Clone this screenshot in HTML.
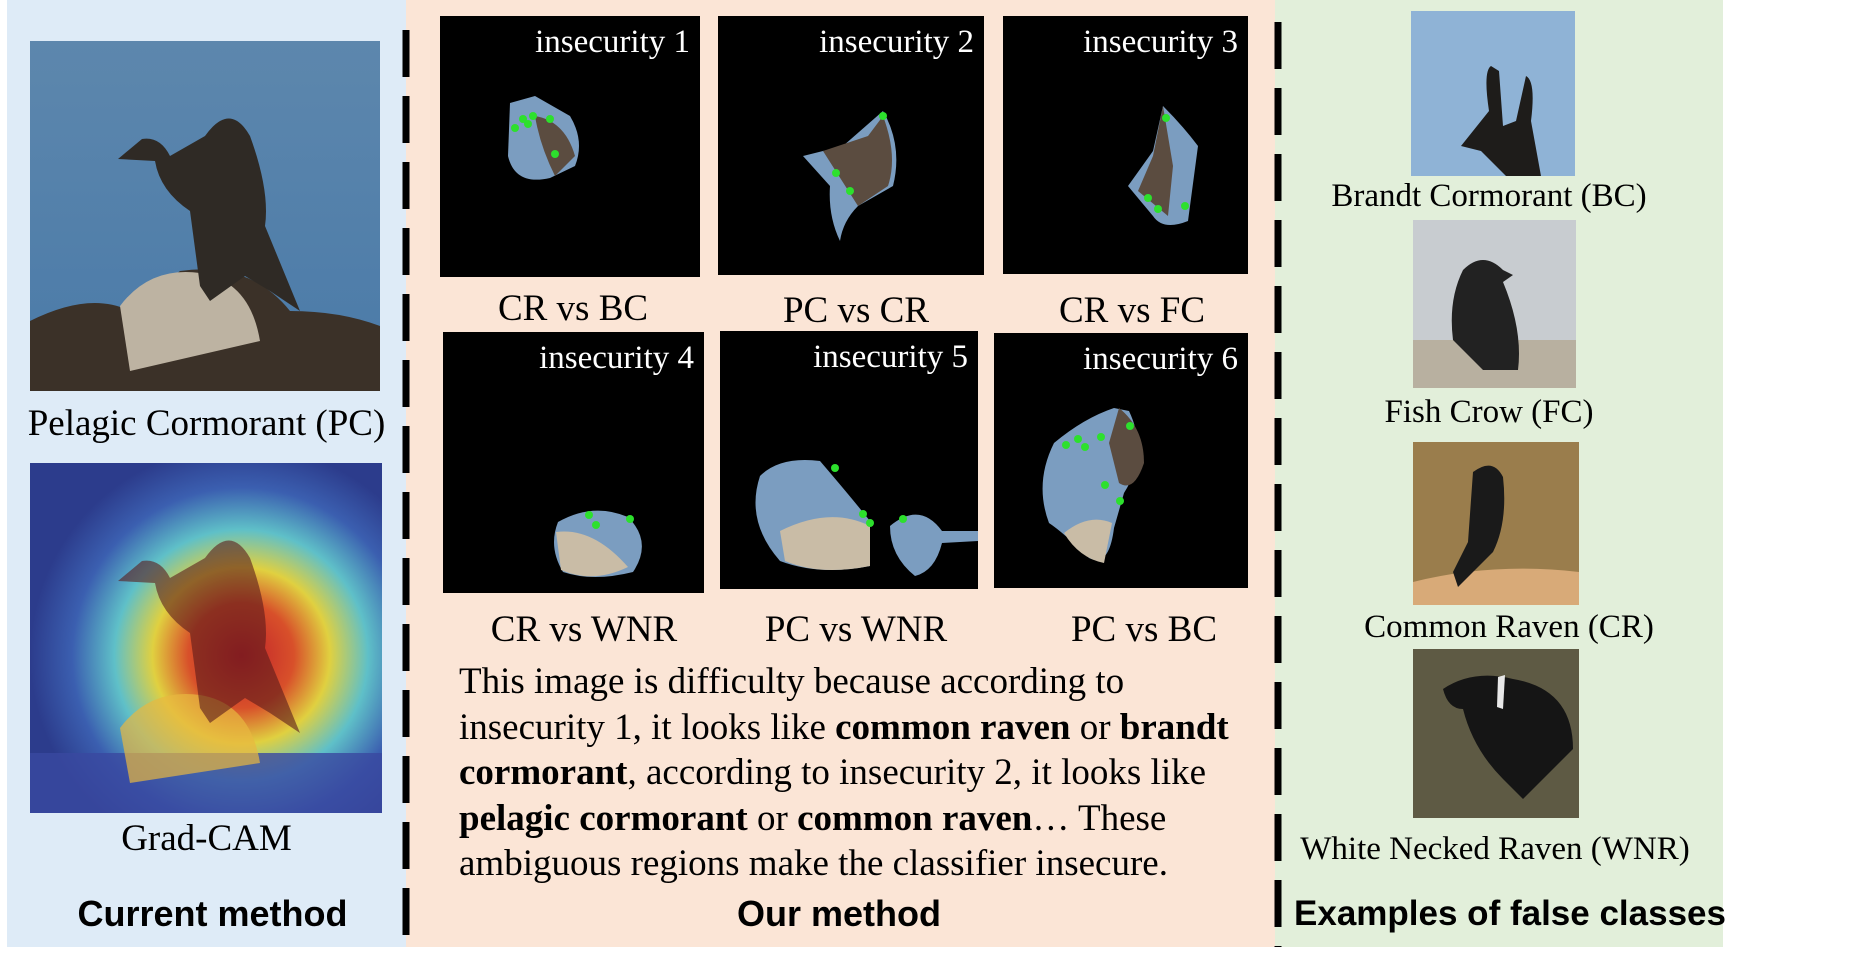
<!DOCTYPE html>
<html><head><meta charset="utf-8"><style>
body{margin:0;width:1866px;height:965px;background:#fff;position:relative;overflow:hidden;font-family:"Liberation Serif",serif}
div,svg{position:absolute}
.t{font-family:"Liberation Serif",serif;color:#000;text-align:center;white-space:nowrap}
.h{font-family:"Liberation Sans",sans-serif;font-weight:bold;text-align:center;white-space:nowrap;font-size:36px;letter-spacing:0}
.pan{background:#000;overflow:hidden}
.lab{position:absolute;right:10px;top:8px;color:#fff;font-size:33px;font-family:"Liberation Serif",serif}
.cap{font-size:37px}
.rc{font-size:33px}
.para{font-size:37px;line-height:45.5px;left:459px;top:659px;white-space:nowrap}
</style></head><body>
<div style="left:7px;top:0;width:399px;height:947px;background:#deebf7"></div>
<div style="left:406px;top:0;width:869px;height:947px;background:#fbe5d6"></div>
<div style="left:1275px;top:0;width:448px;height:947px;background:#e2efda"></div>

<svg style="left:402px;top:0" width="8" height="947"><line x1="4" y1="30" x2="4" y2="947" stroke="#000" stroke-width="7" stroke-dasharray="47 19"/></svg>
<svg style="left:1274px;top:0" width="8" height="947"><line x1="4" y1="22" x2="4" y2="947" stroke="#000" stroke-width="7" stroke-dasharray="47 19"/></svg>

<svg style="left:30px;top:41px" width="350" height="350" viewBox="0 0 350 350">
<defs><linearGradient id="sky" x1="0" y1="0" x2="0" y2="1"><stop offset="0" stop-color="#5d87ad"/><stop offset="1" stop-color="#4a7aa8"/></linearGradient></defs>
<rect width="350" height="350" fill="url(#sky)"/>
<path d="M0 280 Q60 250 100 270 L150 230 Q220 220 260 270 Q310 270 350 285 L350 350 L0 350Z" fill="#3b3128"/>
<path d="M90 265 Q120 225 170 232 Q220 240 230 300 L100 330Z" fill="#bdb3a2"/>
<path d="M88 118 L112 98 Q130 95 140 115 L175 95 Q200 60 220 95 Q240 150 235 185 L270 270 L240 250 L215 235 L180 260 L170 245 L160 170 Q130 150 125 120 Z" fill="#2f2a25"/>
</svg>
<div class="t cap" style="left:7px;width:399px;top:402px">Pelagic Cormorant (PC)</div>

<svg style="left:30px;top:463px" width="352" height="350" viewBox="0 0 352 350">
<defs><radialGradient id="cam" cx="0.6" cy="0.55" r="0.6"><stop offset="0" stop-color="#c0202a"/><stop offset="0.25" stop-color="#d8502a"/><stop offset="0.42" stop-color="#e0d040"/><stop offset="0.6" stop-color="#5fc0c8"/><stop offset="0.8" stop-color="#3b5fb0"/><stop offset="1" stop-color="#2c3c8c"/></radialGradient></defs>
<rect width="352" height="350" fill="url(#cam)"/>
<rect y="290" width="352" height="60" fill="#3a48a0" opacity="0.8"/>
<path d="M90 265 Q120 225 170 232 Q220 240 230 300 L100 320Z" fill="#e8b840" opacity="0.7"/>
<path d="M88 118 L112 98 Q130 95 140 115 L175 95 Q200 60 220 95 Q240 150 235 185 L270 270 L240 250 L215 235 L180 260 L170 245 L160 170 Q130 150 125 120 Z" fill="#5a1a1a" opacity="0.6"/>
</svg>
<div class="t cap" style="left:7px;width:399px;top:817px">Grad-CAM</div>
<div class="h" style="left:13px;width:399px;top:893px">Current method</div>

<div class="pan" style="left:440px;top:16px;width:260px;height:261px"><span class="lab">insecurity 1</span>
<svg style="left:0;top:0" width="260" height="261"><path d="M70 87 L95 80 L130 100 Q145 125 135 150 L110 162 Q75 170 68 140Z" fill="#7b9dc0"/><path d="M95 100 Q125 105 135 140 L115 160 Q100 130 95 100Z" fill="#5b4c40"/><g fill="#2de02d"><circle cx="75" cy="112" r="4"/><circle cx="83" cy="103" r="4"/><circle cx="88" cy="108" r="4"/><circle cx="93" cy="100" r="4"/><circle cx="110" cy="103" r="4"/><circle cx="115" cy="138" r="4"/></g></svg></div>
<div class="pan" style="left:718px;top:16px;width:266px;height:259px"><span class="lab">insecurity 2</span>
<svg style="left:0;top:0" width="266" height="259"><path d="M85 140 L125 130 L165 95 Q185 130 175 170 L140 190 Q125 205 122 225 Q110 200 112 170Z" fill="#7b9dc0"/><path d="M105 135 L150 120 L165 100 Q180 140 170 170 L140 190Z" fill="#5b4c40"/><g fill="#2de02d"><circle cx="165" cy="100" r="4"/><circle cx="118" cy="157" r="4"/><circle cx="132" cy="175" r="4"/></g></svg></div>
<div class="pan" style="left:1003px;top:16px;width:245px;height:258px"><span class="lab">insecurity 3</span>
<svg style="left:0;top:0" width="245" height="258"><path d="M160 90 Q180 110 195 130 L185 205 Q160 215 150 200 L125 170 L150 135Z" fill="#7b9dc0"/><path d="M160 90 L150 140 L135 175 L165 200 L170 150Z" fill="#5b4c40"/><g fill="#2de02d"><circle cx="163" cy="102" r="4"/><circle cx="145" cy="182" r="4"/><circle cx="155" cy="193" r="4"/><circle cx="182" cy="190" r="4"/></g></svg></div>
<div class="pan" style="left:443px;top:332px;width:261px;height:261px"><span class="lab">insecurity 4</span>
<svg style="left:0;top:0" width="261" height="261"><path d="M115 190 Q150 170 185 185 Q210 210 190 240 Q150 250 120 240 Q105 215 115 190Z" fill="#7b9dc0"/><path d="M113 200 Q150 195 185 235 Q150 252 118 238Z" fill="#c9bca6"/><g fill="#2de02d"><circle cx="146" cy="183" r="4"/><circle cx="153" cy="193" r="4"/><circle cx="187" cy="187" r="4"/></g></svg></div>
<div class="pan" style="left:720px;top:331px;width:258px;height:258px"><span class="lab">insecurity 5</span>
<svg style="left:0;top:0" width="258" height="258"><path d="M40 145 Q60 125 100 130 Q130 165 150 190 L150 235 Q100 245 60 230 Q25 190 40 145Z" fill="#7b9dc0"/><path d="M60 200 Q110 175 150 195 L150 235 Q100 245 65 230Z" fill="#c9bca6"/><path d="M170 195 Q200 170 222 200 L258 200 L258 210 L222 212 Q215 240 195 245 Q170 225 170 195Z" fill="#7b9dc0"/><g fill="#2de02d"><circle cx="115" cy="137" r="4"/><circle cx="143" cy="183" r="4"/><circle cx="150" cy="192" r="4"/><circle cx="183" cy="188" r="4"/></g></svg></div>
<div class="pan" style="left:994px;top:333px;width:254px;height:255px"><span class="lab">insecurity 6</span>
<svg style="left:0;top:0" width="254" height="255"><path d="M60 110 Q90 85 120 75 L135 78 Q155 120 130 160 L120 195 Q115 235 95 225 Q70 200 55 190 Q40 150 60 110Z" fill="#7b9dc0"/><path d="M125 75 Q150 95 150 130 Q140 160 125 150 L115 110Z" fill="#5b4c40"/><path d="M70 200 Q95 180 118 190 L110 230 Q85 225 70 200Z" fill="#c9bca6"/><g fill="#2de02d"><circle cx="72" cy="112" r="4"/><circle cx="84" cy="106" r="4"/><circle cx="91" cy="114" r="4"/><circle cx="107" cy="104" r="4"/><circle cx="136" cy="93" r="4"/><circle cx="111" cy="152" r="4"/><circle cx="126" cy="168" r="4"/></g></svg></div>

<div class="t cap" style="left:473px;width:200px;top:287px">CR vs BC</div>
<div class="t cap" style="left:756px;width:200px;top:289px">PC vs CR</div>
<div class="t cap" style="left:1032px;width:200px;top:289px">CR vs FC</div>
<div class="t cap" style="left:484px;width:200px;top:608px">CR vs WNR</div>
<div class="t cap" style="left:756px;width:200px;top:608px">PC vs WNR</div>
<div class="t cap" style="left:1044px;width:200px;top:608px">PC vs BC</div>

<div class="para">This image is difficulty because according to<br>insecurity 1, it looks like <b>common raven</b> or <b>brandt</b><br><b>cormorant</b>, according to insecurity 2, it looks like<br><b>pelagic cormorant</b> or <b>common raven</b>… These<br>ambiguous regions make the classifier insecure.</div>
<div class="h" style="left:406px;width:866px;top:893px">Our method</div>

<svg style="left:1411px;top:11px" width="164" height="165"><rect width="164" height="165" fill="#8fb3d6"/><path d="M80 55 Q72 60 78 100 L50 135 L70 140 L95 165 L130 165 L120 110 Q125 70 115 65 L105 110 L92 115 L88 60Z" fill="#1e1c1a"/></svg>
<div class="t rc" style="left:1289px;width:400px;top:178px">Brandt Cormorant (BC)</div>
<svg style="left:1413px;top:220px" width="163" height="168"><rect width="163" height="168" fill="#c8ccd0"/><rect y="120" width="163" height="48" fill="#b8b0a0"/><path d="M50 50 Q70 30 90 50 L100 55 L90 62 Q110 110 105 150 L70 150 L40 120 Q35 80 50 50Z" fill="#222"/></svg>
<div class="t rc" style="left:1289px;width:400px;top:394px">Fish Crow (FC)</div>
<svg style="left:1413px;top:442px" width="166" height="163"><rect width="166" height="163" fill="#9a7d4c"/><path d="M0 140 Q80 120 166 130 L166 163 L0 163Z" fill="#d8aa78"/><path d="M60 30 Q80 15 90 35 Q95 80 80 110 L45 145 L40 130 L55 100Z" fill="#1a1a1a"/></svg>
<div class="t rc" style="left:1309px;width:400px;top:609px">Common Raven (CR)</div>
<svg style="left:1413px;top:649px" width="166" height="169"><rect width="166" height="169" fill="#5e5a44"/><path d="M30 40 Q60 20 100 30 Q160 40 160 100 L130 130 L110 150 L90 130 Q60 100 50 60 Q35 60 30 40Z" fill="#151515"/><path d="M85 28 L92 26 L90 60 L84 58Z" fill="#e8e8e8"/></svg>
<div class="t rc" style="left:1295px;width:400px;top:831px">White Necked Raven (WNR)</div>
<div class="h" style="left:1290px;width:440px;top:894px;font-size:35px">Examples of false classes</div>
</body></html>
